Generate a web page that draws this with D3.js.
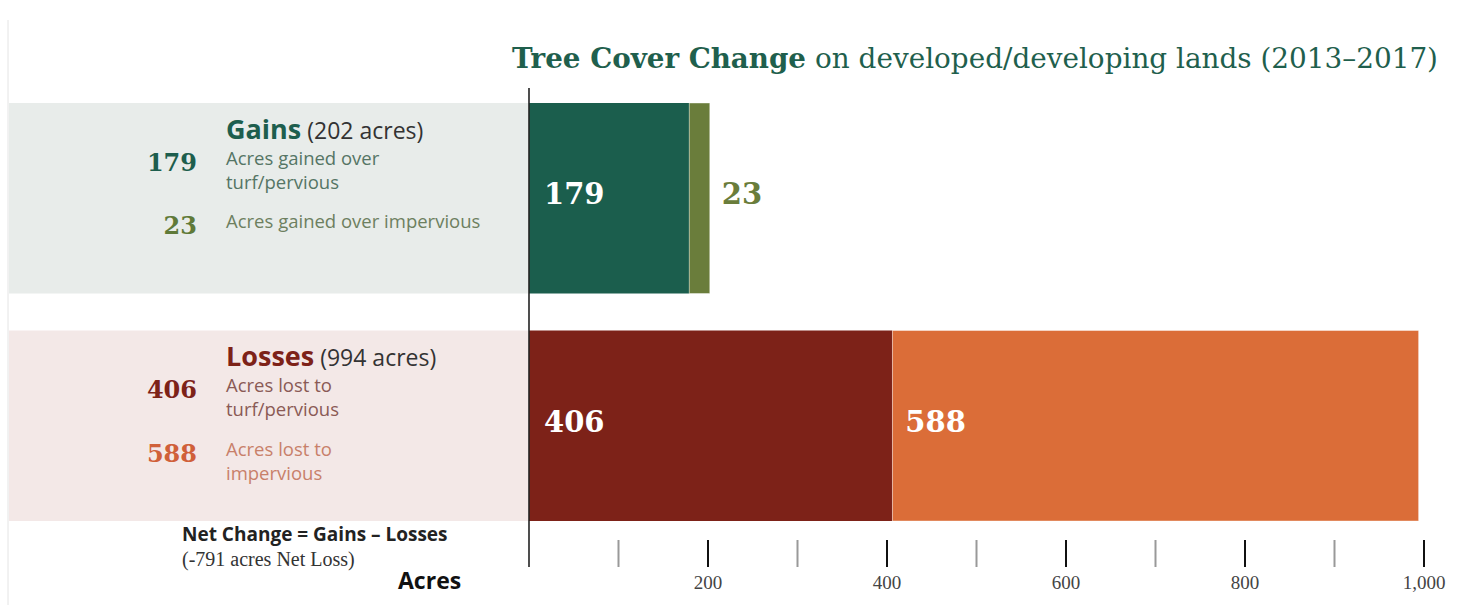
<!DOCTYPE html>
<html lang="en">
<head>
<meta charset="utf-8">
<title>Tree Cover Change</title>
<script src="https://d3js.org/d3.v7.min.js"></script>
<style>
  body { margin: 0; background: #fff; }
  svg { display: block; }
</style>
</head>
<body>
<script>
// data
const categories = ["Gains", "Losses"];
const turfValues = [179, 406];
const imperviousValues = [23, 588];
const totals = [202, 994];
const majorTicks = [200, 400, 600, 800, 1000];
const minorTicks = [100, 300, 500, 700, 900];

const width = 1462, height = 611;
const x0 = 529, x1 = 1424;

const svg = d3.select("body").append("svg")
  .attr("width", width)
  .attr("height", height);

const x = d3.scaleLinear().domain([0, 1000]).range([x0, x1]);
const y = d3.scaleBand().domain(categories).range([103, 521]).paddingInner(0.1626);

const bandColors = { Gains: "#e8ecea", Losses: "#f3e8e7" };
const turfColors = { Gains: "#1b5e4d", Losses: "#7d2218" };
const impColors = { Gains: "#6a7d3b", Losses: "#db6d38" };

// faint left border
svg.append("line")
  .attr("x1", 8).attr("x2", 8).attr("y1", 20).attr("y2", 605)
  .attr("stroke", "#e4e4e4").attr("stroke-width", 1);

// background bands on left
svg.selectAll(".band")
  .data(categories)
  .enter().append("rect")
  .attr("x", 9)
  .attr("y", d => y(d))
  .attr("width", x0 - 9)
  .attr("height", y.bandwidth())
  .attr("fill", d => bandColors[d]);

// bars
const rows = categories.map((c, i) => ({ c, turf: turfValues[i], imp: imperviousValues[i] }));

svg.selectAll(".turf")
  .data(rows)
  .enter().append("rect")
  .attr("x", x(0))
  .attr("y", d => y(d.c))
  .attr("width", d => x(d.turf) - x(0))
  .attr("height", y.bandwidth())
  .attr("fill", d => turfColors[d.c]);

svg.selectAll(".imp")
  .data(rows)
  .enter().append("rect")
  .attr("x", d => x(d.turf))
  .attr("y", d => y(d.c))
  .attr("width", d => x(d.turf + d.imp) - x(d.turf))
  .attr("height", y.bandwidth())
  .attr("fill", d => impColors[d.c])
  .attr("stroke", "#ffffff")
  .attr("stroke-opacity", 0.5)
  .attr("stroke-width", 0.8);

// bar labels
svg.selectAll(".turfLabel")
  .data(rows)
  .enter().append("text")
  .attr("x", x(0) + 15)
  .attr("y", d => y(d.c) + y.bandwidth() / 2 + 6)
  .attr("font-family", "'DejaVu Serif', serif")
  .attr("font-weight", "bold")
  .attr("font-size", "29px")
  .attr("fill", "#ffffff")
  .text(d => d.turf);

svg.selectAll(".impLabel")
  .data(rows)
  .enter().append("text")
  .attr("x", d => d.imp < 100 ? x(d.turf + d.imp) + 12 : x(d.turf) + 13)
  .attr("y", d => y(d.c) + y.bandwidth() / 2 + 6)
  .attr("font-family", "'DejaVu Serif', serif")
  .attr("font-weight", "bold")
  .attr("font-size", "29px")
  .attr("fill", d => d.imp < 100 ? impColors[d.c] : "#ffffff")
  .text(d => d.imp);

// axis
const axisG = svg.append("g");
axisG.selectAll(".minor")
  .data(minorTicks)
  .enter().append("line")
  .attr("x1", d => x(d)).attr("x2", d => x(d))
  .attr("y1", 540).attr("y2", 567)
  .attr("stroke", "#999").attr("stroke-width", 2);
axisG.selectAll(".major")
  .data(majorTicks)
  .enter().append("line")
  .attr("x1", d => x(d)).attr("x2", d => x(d))
  .attr("y1", 540).attr("y2", 567)
  .attr("stroke", "#111").attr("stroke-width", 2);
axisG.selectAll(".tickLabel")
  .data(majorTicks)
  .enter().append("text")
  .attr("x", d => x(d))
  .attr("y", 589)
  .attr("text-anchor", "middle")
  .attr("font-family", "'Liberation Serif', serif")
  .attr("font-size", "19px")
  .attr("fill", "#444")
  .text(d => d3.format(",")(d));

// zero line
svg.append("line")
  .attr("x1", x(0)).attr("x2", x(0))
  .attr("y1", 88).attr("y2", 567)
  .attr("stroke", "#222").attr("stroke-width", 1.6);

// title
const title = svg.append("text")
  .attr("x", 512)
  .attr("y", 68)
  .attr("font-family", "'DejaVu Serif', serif")
  .attr("font-size", "28px")
  .attr("fill", "#1f5f4d");
title.append("tspan").attr("font-weight", "bold")
  .attr("textLength", 294).attr("lengthAdjust", "spacingAndGlyphs")
  .text("Tree Cover Change");
title.append("tspan").attr("x", 815).attr("font-size", "27px")
  .attr("textLength", 623).attr("lengthAdjust", "spacingAndGlyphs")
  .text("on developed/developing lands (2013–2017)");

// left side labels
const sans = "'Open Sans', Lato, sans-serif";
const labelX = 226, numX = 197;

const leftText = [
  { c: "Gains", head: "Gains", total: "(202 acres)", headColor: "#1d5e4d",
    items: [
      { num: turfValues[0], dy: 62, color: "#1d5e4d", lines: ["Acres gained over", "turf/pervious"], lineColor: "#557565" },
      { num: imperviousValues[0], dy: 125, color: "#5f7a39", lines: ["Acres gained over impervious"], lineColor: "#6d7f60" }
    ] },
  { c: "Losses", head: "Losses", total: "(994 acres)", headColor: "#7d2218",
    items: [
      { num: turfValues[1], dy: 62, color: "#7d2218", lines: ["Acres lost to", "turf/pervious"], lineColor: "#8a5a55" },
      { num: imperviousValues[1], dy: 126, color: "#d0603a", lines: ["Acres lost to", "impervious"], lineColor: "#c8806a" }
    ] }
];

leftText.forEach(g => {
  const top = y(g.c);
  const h = svg.append("text")
    .attr("x", labelX)
    .attr("y", top + 36)
    .attr("font-family", sans)
    .attr("font-size", "23px")
    .attr("fill", "#333");
  h.append("tspan").attr("font-weight", "bold").attr("font-size", "27px").attr("fill", g.headColor).text(g.head);
  h.append("tspan").text(" " + g.total);

  g.items.forEach(it => {
    svg.append("text")
      .attr("x", numX)
      .attr("y", top + it.dy + 6)
      .attr("text-anchor", "end")
      .attr("font-family", "'DejaVu Serif', serif")
      .attr("font-weight", "bold")
      .attr("font-size", "24px")
      .attr("fill", it.color)
      .text(it.num);
    it.lines.forEach((ln, li) => {
      svg.append("text")
        .attr("x", labelX)
        .attr("y", top + it.dy + li * 24)
        .attr("font-family", sans)
        .attr("font-size", "18.5px")
        .attr("fill", it.lineColor)
        .text(ln);
    });
  });
});

// net change
svg.append("text")
  .attr("x", 182).attr("y", 541)
  .attr("font-family", sans)
  .attr("font-weight", "bold")
  .attr("font-size", "19px")
  .attr("fill", "#222")
  .text("Net Change = Gains – Losses");
svg.append("text")
  .attr("x", 182).attr("y", 566)
  .attr("font-family", "'Liberation Serif', serif")
  .attr("font-size", "20px")
  .attr("fill", "#333")
  .text("(-791 acres Net Loss)");
svg.append("text")
  .attr("x", 398).attr("y", 589)
  .attr("font-family", sans)
  .attr("font-weight", "bold")
  .attr("font-size", "23px")
  .attr("fill", "#111")
  .text("Acres");
</script>
</body>
</html>
